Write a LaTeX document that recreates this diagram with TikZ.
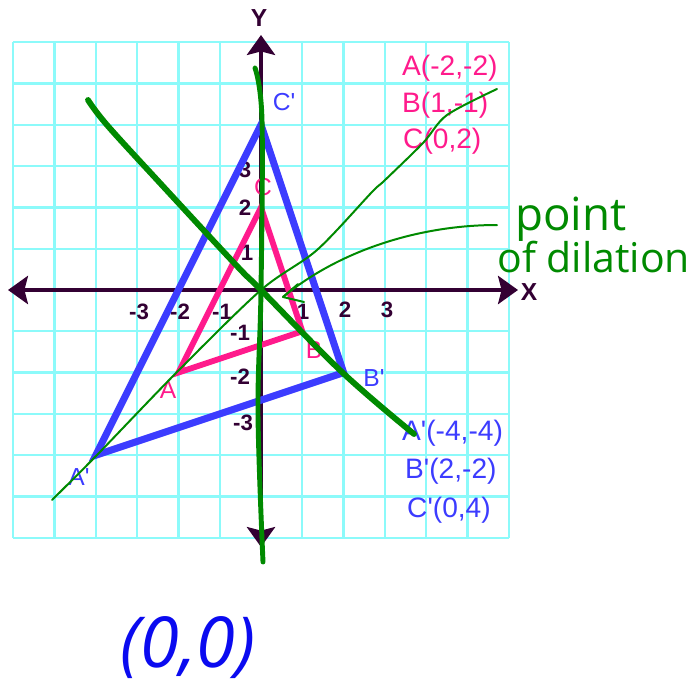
\documentclass[tikz,border=0pt]{standalone}
\usepackage{fontspec}
\newfontfamily\lab{Liberation Sans}
\newfontfamily\hand{Open Sans}
\usetikzlibrary{arrows.meta}
\definecolor{gridc}{HTML}{8CFAFA}
\definecolor{axisc}{HTML}{330033}
\definecolor{bluet}{HTML}{3C3CFF}
\definecolor{pinkt}{HTML}{FF1A8C}
\definecolor{penG}{HTML}{008A00}
\definecolor{penB}{HTML}{0A0AF0}
\tikzset{
  gridline/.style={draw=gridc, line width=2pt},
  axisline/.style={draw=axisc, line width=3.4pt, {Stealth[length=17pt,width=24pt,inset=3pt]}-{Stealth[length=17pt,width=24pt,inset=3pt]}},
  bluetri/.style={draw=bluet, line width=6pt},
  pinktri/.style={draw=pinkt, line width=5pt},
  numlab/.style={text=axisc, font=\lab\bfseries\fontsize{19}{20}\selectfont, inner sep=0pt},
  axlab/.style={text=axisc, font=\lab\bfseries\fontsize{21}{22}\selectfont, inner sep=0pt},
  bluelab/.style={text=bluet, font=\lab\fontsize{21}{22}\selectfont, inner sep=0pt},
  pinklab/.style={text=pinkt, font=\lab\fontsize{21}{22}\selectfont, inner sep=0pt},
  bluecoord/.style={text=bluet, font=\lab\fontsize{24}{26}\selectfont, inner sep=0pt, anchor=west},
  pinkcoord/.style={text=pinkt, font=\lab\fontsize{24}{26}\selectfont, inner sep=0pt, anchor=west},
  penthick/.style={draw=penG, line width=5pt, line cap=round, line join=round},
  penmid/.style={draw=penG, line width=4.2pt, line cap=round, line join=round},
  penthin/.style={draw=penG, line width=1.7pt, line cap=round, line join=round},
}
\begin{document}
\begin{tikzpicture}[x=0.03cm, y=-0.03cm]
\useasboundingbox (0,0) rectangle (695,695);
\fill[white] (0,0) rectangle (695,695);
% grid
\foreach \k in {-6,...,6}{
  \draw[gridline] ({261+41.3*\k},42.2) -- ({261+41.3*\k},537.8);
  \draw[gridline] (13.2,{290+41.3*\k}) -- (508.8,{290+41.3*\k});
}
% axes
\coordinate (xl) at (8,290);
\coordinate (xr) at (518,290);
\coordinate (yt) at (261,35);
\coordinate (yb) at (261,547);
\draw[axisline] (xl) -- (xr);
\draw[axisline] (yb) -- (yt);
\node[axlab] (Xlab) at (529,292) {X};
\node[axlab] (Ylab) at (259,18) {Y};
% axis numbers
\node[numlab] (nxm3) at (139,312) {-3};
\node[numlab] (nxm2) at (180,312) {-2};
\node[numlab] (nxm1) at (222,312) {-1};
\node[numlab] (nx1) at (303,312) {1};
\node[numlab] (nx2) at (345,310) {2};
\node[numlab] (nx3) at (387,310) {3};
\node[numlab] (ny1) at (247,253) {1};
\node[numlab] (ny2) at (245,208) {2};
\node[numlab] (ny3) at (245,170) {3};
\node[numlab] (nym1) at (240,333) {-1};
\node[numlab] (nym2) at (240,377) {-2};
\node[numlab] (nym3) at (243,423) {-3};
% triangles
\begin{scope}[shift={(261,290)}, x=1.239cm, y=1.239cm]
  \coordinate (A) at (-2,-2);
  \coordinate (B) at (1,-1);
  \coordinate (C) at (0,2);
  \coordinate (Ap) at (-4,-4);
  \coordinate (Bp) at (2,-2);
  \coordinate (Cp) at (0,4);
  \draw[bluetri] (Ap) -- (Bp) -- (Cp) -- cycle;
  \draw[pinktri] (A) -- (B) -- (C) -- cycle;
\end{scope}
% vertex labels
\node[bluelab] (lCp) at (284,102) {C'};
\node[bluelab] (lBp) at (374,378) {B'};
\node[bluelab] (lAp) at (79,477) {A'};
\node[pinklab] (lC) at (263,187) {C};
\node[pinklab] (lB) at (314,350) {B};
\node[pinklab] (lA) at (168,390) {A};
% coordinate lists
\node[pinkcoord] (tA) at (402,68) {A(-2,-2)};
\node[pinkcoord] (tB) at (402,105) {B(1,-1)};
\node[pinkcoord] (tC) at (403,141) {C(0,2)};
\node[bluecoord] (tAp) at (402,433) {A'(-4,-4)};
\node[bluecoord] (tBp) at (405,471) {B'(2,-2)};
\node[bluecoord] (tCp) at (407,510) {C'(0,4)};
% green pen
\draw[penthin] plot[smooth, tension=0.5] coordinates {(52,500) (97,455) (177,372) (261,290) (317,250) (372,192) (384,181) (423,143) (447,115) (497,89)};
\draw[penthick] plot[smooth, tension=0.6] coordinates {(88,100) (107,125) (160,183) (236,265) (261,290) (343,373) (414,434)};
\draw[penmid] plot[smooth, tension=0.6] coordinates {(255,68) (262,120) (261,290) (258,413) (263,562)};
\coordinate (arrS) at (497,225);
\coordinate (arrT) at (283,297);
\coordinate (arrU) at (298,284);
\coordinate (arrD) at (304,302);
\draw[penthin] (arrS) .. controls (420,225) and (340,250) .. (arrT);
\draw[penthin] (arrU) -- (arrT) -- (arrD);
\node[text=penG, font=\hand\fontsize{39}{40}\selectfont, inner sep=0pt, anchor=base west] (pt) at (515,230) {point};
\node[text=penG, font=\hand\fontsize{35}{36}\selectfont, inner sep=0pt, anchor=base west] (dil) at (497,272) {of dilation};
\node[text=penB, font=\hand\itshape\fontsize{60}{62}\selectfont, inner sep=0pt, anchor=base west] (orig) at (120,667) {(0,0)};
\end{tikzpicture}
\end{document}
